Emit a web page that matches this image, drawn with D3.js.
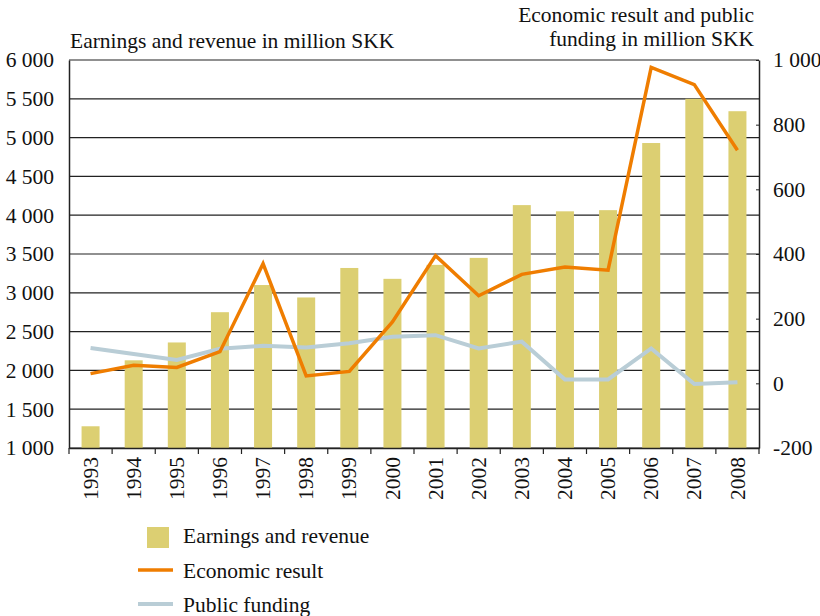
<!DOCTYPE html>
<html>
  <head>
    <meta charset="utf-8">
    <title>Earnings, economic result and public funding</title>
    <script src="https://d3js.org/d3.v7.min.js"></script>
    <style>
      body { margin: 0; background: #fff; }
      svg text { font-family: "Liberation Serif", "Times New Roman", serif; fill: #111; }
    </style>
  </head>
  <body>
    <div id="chart"></div>
    <script>
      var years = ["1993","1994","1995","1996","1997","1998","1999","2000",
                   "2001","2002","2003","2004","2005","2006","2007","2008"];
      var earnings = [1280, 2130, 2360, 2750, 3100, 2940, 3320, 3180,
                      3360, 3450, 4130, 4050, 4065, 4930, 5500, 5340];
      var econResult = [30, 56, 49, 98, 370, 23, 37, 190,
                        395, 271, 337, 360, 350, 977, 924, 721];
      var publicFunding = [109, 91, 72, 107, 116, 111, 124, 144,
                           149, 108, 129, 12, 12, 108, -2, 3];
      var leftTicks = [1000, 1500, 2000, 2500, 3000, 3500, 4000, 4500, 5000, 5500, 6000];
      var rightTicks = [-200, 0, 200, 400, 600, 800, 1000];

      var W = 820, H = 616;
      var margin = {top: 60, right: 61, bottom: 168, left: 69};
      var width = W - margin.left - margin.right,
          height = H - margin.top - margin.bottom;
      var fs = "21.5px";

      var svg = d3.select("#chart").append("svg")
          .attr("width", W).attr("height", H);
      var g = svg.append("g")
          .attr("transform", "translate(" + margin.left + "," + margin.top + ")");

      var x = d3.scaleBand().domain(years).range([0, width]);
      var yL = d3.scaleLinear().domain([1000, 6000]).range([height, 0]);
      var yR = d3.scaleLinear().domain([-200, 1000]).range([height, 0]);

      // horizontal grid lines at the left ticks
      g.append("g")
        .selectAll("line")
        .data(leftTicks)
        .enter().append("line")
          .attr("x1", 0).attr("x2", width)
          .attr("y1", function(d) { return yL(d); })
          .attr("y2", function(d) { return yL(d); })
          .attr("stroke", "#222").attr("stroke-width", 1.2);

      // bars
      g.selectAll("rect.bar")
        .data(earnings)
        .enter().append("rect")
          .attr("class", "bar")
          .attr("x", function(d, i) { return x(years[i]) + x.bandwidth() / 2 - 9; })
          .attr("width", 18)
          .attr("y", function(d) { return yL(d); })
          .attr("height", function(d) { return height - yL(d); })
          .attr("fill", "#dccf72");

      var line = d3.line()
        .x(function(d, i) { return x(years[i]) + x.bandwidth() / 2; })
        .y(function(d) { return yR(d); });

      g.append("path").datum(publicFunding)
        .attr("d", line).attr("fill", "none")
        .attr("stroke", "#b9cdd6").attr("stroke-width", 4)
        .attr("stroke-linejoin", "miter");

      g.append("path").datum(econResult)
        .attr("d", line).attr("fill", "none")
        .attr("stroke", "#ef7d00").attr("stroke-width", 3.5)
        .attr("stroke-linejoin", "miter");

      // left axis
      var axL = g.append("g")
        .call(d3.axisLeft(yL).tickValues(leftTicks).tickSize(0).tickPadding(15)
          .tickFormat(function(d) { return d3.format(",")(d).replace(",", " "); }));
      axL.select(".domain").attr("stroke", "#222").attr("stroke-width", 1.5);
      axL.selectAll("text").style("font-size", fs);

      // right axis
      var axR = g.append("g")
        .attr("transform", "translate(" + width + ",0)")
        .call(d3.axisRight(yR).tickValues(rightTicks).tickSizeInner(-3).tickSizeOuter(0).tickPadding(14)
          .tickFormat(function(d) { return d3.format(",")(d).replace(",", " ").replace("−", "-"); }));
      axR.select(".domain").attr("stroke", "#222").attr("stroke-width", 1.5);
      axR.selectAll("line").attr("stroke", "#222");
      axR.selectAll("text").style("font-size", fs);

      // bottom axis
      var axB = g.append("g")
        .attr("transform", "translate(0," + height + ")")
        .call(d3.axisBottom(x).tickSize(0).tickPadding(0));
      axB.select(".domain").attr("stroke", "#222").attr("stroke-width", 1.5);
      axB.selectAll(".tick text")
        .style("font-size", fs)
        .attr("text-anchor", "end")
        .attr("transform", "rotate(-90)")
        .attr("x", -9).attr("y", 0).attr("dy", "0.33em");
      var bounds = x.domain().map(function(d) { return x(d); }).concat([width]);
      axB.selectAll("line.sep")
        .data(bounds)
        .enter().append("line")
          .attr("class", "sep")
          .attr("x1", function(d) { return d; }).attr("x2", function(d) { return d; })
          .attr("y1", 0).attr("y2", 6)
          .attr("stroke", "#222").attr("stroke-width", 1.2);

      // axis titles
      svg.append("text").attr("x", 70).attr("y", 48)
        .style("font-size", fs).text("Earnings and revenue in million SKK");
      svg.append("text").attr("x", 754).attr("y", 22).attr("text-anchor", "end")
        .style("font-size", fs).text("Economic result and public");
      svg.append("text").attr("x", 754).attr("y", 46).attr("text-anchor", "end")
        .style("font-size", fs).text("funding in million SKK");

      // legend
      var leg = svg.append("g");
      leg.append("rect").attr("x", 147).attr("y", 527).attr("width", 22).attr("height", 21)
        .attr("fill", "#dccf72");
      leg.append("line").attr("x1", 138).attr("x2", 173).attr("y1", 570).attr("y2", 570)
        .attr("stroke", "#ef7d00").attr("stroke-width", 3.5);
      leg.append("line").attr("x1", 138).attr("x2", 173).attr("y1", 604).attr("y2", 604)
        .attr("stroke", "#b9cdd6").attr("stroke-width", 4);
      var legText = ["Earnings and revenue", "Economic result", "Public funding"];
      leg.selectAll("text.lg")
        .data(legText)
        .enter().append("text")
          .attr("class", "lg")
          .attr("x", 183)
          .attr("y", function(d, i) { return [543, 578, 612][i]; })
          .style("font-size", fs)
          .text(function(d) { return d; });
    </script>
  </body>
</html>
